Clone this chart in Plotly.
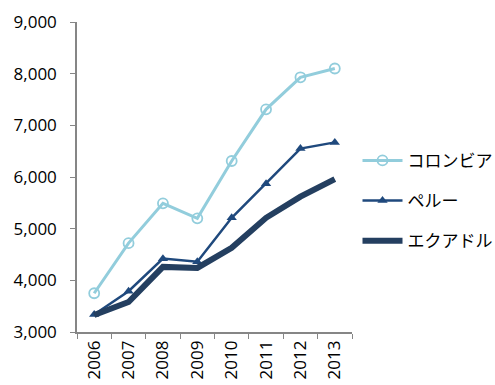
import plotly.graph_objects as go

years = ["2006", "2007", "2008", "2009", "2010", "2011", "2012", "2013"]
colombia = [3750, 4720, 5490, 5200, 6310, 7310, 7930, 8100]
peru = [3340, 3790, 4420, 4360, 5210, 5870, 6550, 6670]
ecuador = [3330, 3580, 4260, 4240, 4630, 5210, 5620, 5960]
names = ["コロンビア", "ペルー", "エクアドル"]

fig = go.Figure()
fig.add_trace(go.Scatter(x=years, y=colombia, name=names[0], mode="lines+markers",
                         line=dict(color="#92CDDC", width=3),
                         marker=dict(symbol="circle-open", size=10, color="#92CDDC", line=dict(width=1.8)),
                         legendgroup="a"))
fig.add_trace(go.Scatter(x=years, y=peru, name=names[1], mode="lines+markers",
                         line=dict(color="#1F497D", width=2.5),
                         marker=dict(symbol="triangle-up", size=9, color="#1F497D"),
                         legendgroup="b"))
fig.add_trace(go.Scatter(x=years, y=ecuador, name=names[2], mode="lines",
                         line=dict(color="#243F60", width=6),
                         legendgroup="c"))

fig.update_layout(
    width=495, height=385,
    margin=dict(l=77, r=143, t=22, b=53, autoexpand=False),
    paper_bgcolor="white", plot_bgcolor="white",
    font=dict(family="Noto Sans CJK JP, Noto Sans, sans-serif", size=15, color="#000000"),
    showlegend=True,
    legend=dict(x=1.02, xanchor="left", y=0.61, yanchor="top",
                font=dict(size=17), tracegroupgap=15, itemwidth=40),
)
fig.update_xaxes(type="category", showline=True, linecolor="#868686", linewidth=1.5,
                 ticks="outside", ticklen=5, tickcolor="#868686", tickson="boundaries",
                 tickangle=-90, showgrid=False, tickfont=dict(family="Open Sans, sans-serif", size=17),
                 range=[-0.5, 7.5])
fig.update_yaxes(range=[3000, 9000], dtick=1000, tickformat=",", showline=True,
                 linecolor="#868686", linewidth=1.5, ticks="outside", ticklen=5,
                 tickcolor="#868686", showgrid=False, zeroline=False, ticklabelstandoff=10,
                 tickfont=dict(family="Open Sans, sans-serif", size=17))

fig.write_html("out.html")
